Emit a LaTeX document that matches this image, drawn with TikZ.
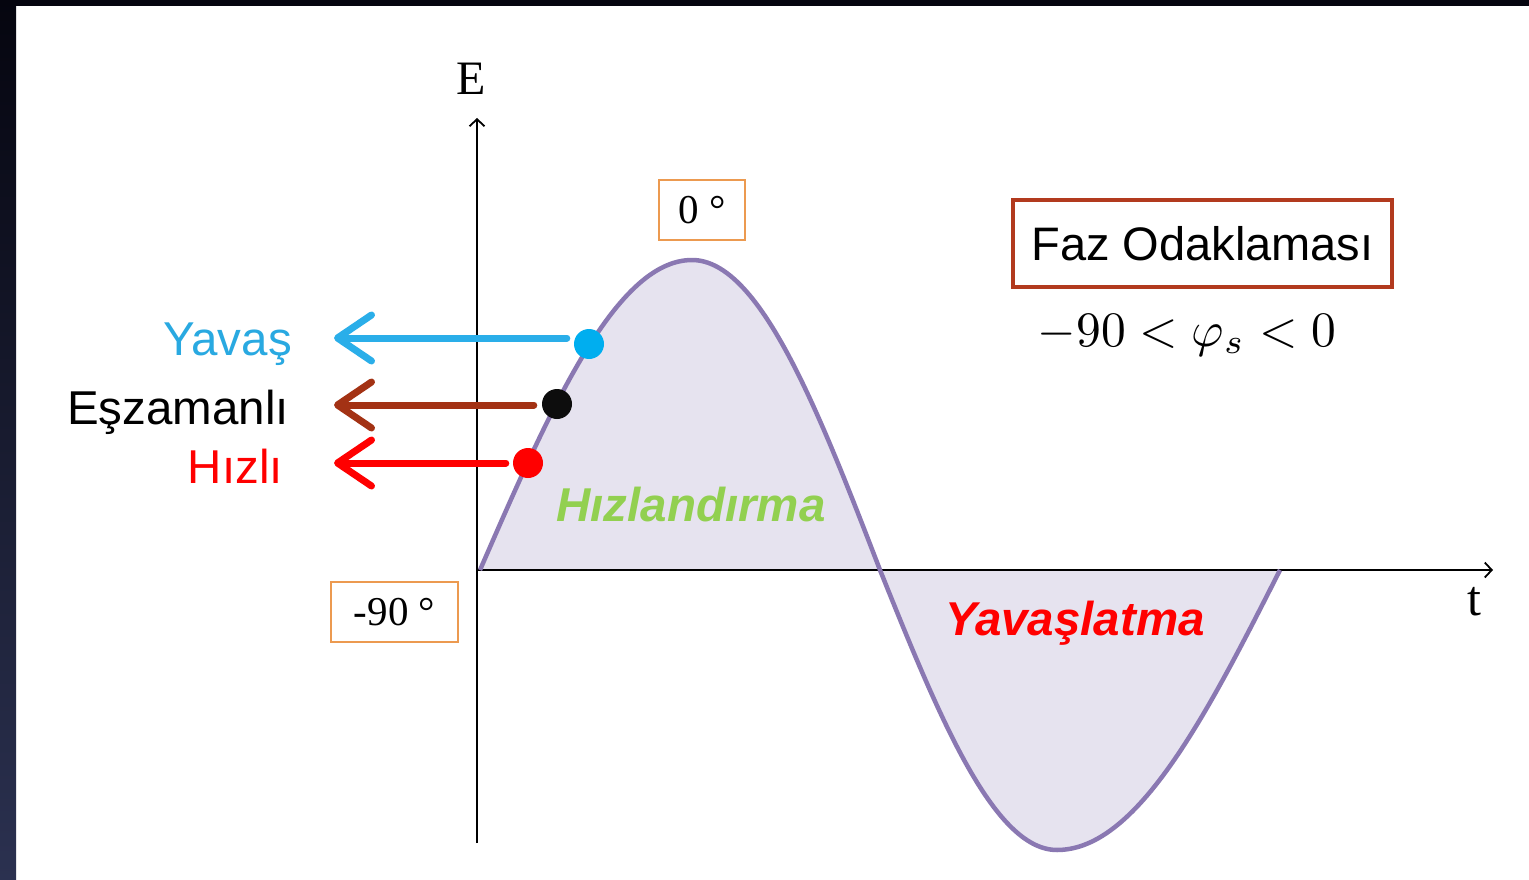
\documentclass[tikz,border=0pt]{standalone}
\usepackage{fontspec}
\setmainfont{Liberation Serif}
\newfontfamily\arialf{Liberation Sans}
\usetikzlibrary{arrows.meta}
\definecolor{lav}{HTML}{E6E3EF}
\definecolor{curvec}{HTML}{8A78B2}
\definecolor{cyant}{HTML}{29A9E1}
\definecolor{cyana}{HTML}{2AAEE9}
\definecolor{cyand}{HTML}{00AEEF}
\definecolor{browna}{HTML}{A33214}
\definecolor{redc}{HTML}{FF0000}
\definecolor{greenc}{HTML}{92D050}
\definecolor{orangeb}{HTML}{EC9A50}
\definecolor{darkredb}{HTML}{B23A1E}
\definecolor{navyb}{HTML}{2B3150}
\definecolor{topb}{HTML}{05050F}
\begin{document}
\begin{tikzpicture}[x=1pt,y=-1pt,
  axis/.style={line width=1.8pt, black, -{Straight Barb[length=7pt,width=15pt]}},
  bigarr/.style={line width=7pt, line cap=round, -{Straight Barb[length=34pt,width=46pt,round]}},
  dot/.style={circle, minimum size=30pt, inner sep=0pt, draw=none},
  degbox/.style={draw=orangeb, line width=2.8pt, fill=white, inner sep=0pt, font=\fontsize{41}{44}\selectfont},
  sidelab/.style={font=\arialf\fontsize{47.5}{50}\selectfont, inner sep=0pt},
  arealab/.style={font=\arialf\bfseries\itshape\fontsize{47.5}{50}\selectfont, inner sep=0pt}
]
\useasboundingbox (0,0) rectangle (1529,880);
\fill[white] (0,0) rectangle (1529,880);
\shade[top color=topb, bottom color=navyb] (0,0) rectangle (16,880);
\fill[topb] (0,0) rectangle (1529,6);

% fills
\fill[lav] (480,570)
  -- plot[domain=480:692, samples=60] (\x, {570-310*sin((\x-480)/212*90)})
  -- plot[domain=692:880, samples=60] (\x, {570-310*cos((\x-692)/188*90)})
  -- cycle;
\fill[lav] (880,570)
  -- plot[domain=880:1057, samples=60] (\x, {570+280*sin((\x-880)/177*90)})
  -- plot[domain=1057:1280, samples=60] (\x, {570+280*cos((\x-1057)/223*90)})
  -- cycle;

% axes
\coordinate (o) at (477,570);
\coordinate (ybot) at (477,843);
\coordinate (ytop) at (477,118);
\coordinate (xend) at (1493,570);
\draw[axis] (ybot) -- (ytop);
\draw[axis] (o) -- (xend);

% curve
\draw[curvec, line width=4.5pt, line join=round]
  plot[domain=480:692, samples=60] (\x, {570-310*sin((\x-480)/212*90)})
  -- plot[domain=692:880, samples=60] (\x, {570-310*cos((\x-692)/188*90)})
  -- plot[domain=880:1057, samples=60] (\x, {570+280*sin((\x-880)/177*90)})
  -- plot[domain=1057:1280, samples=60] (\x, {570+280*cos((\x-1057)/223*90)});

% axis labels
\node[anchor=base, inner sep=0pt, font=\fontsize{48}{50}\selectfont] (E) at (471,95) {E};
\node[anchor=base, inner sep=0pt, font=\fontsize{50}{52}\selectfont] (t) at (1474,615) {t};

% degree boxes
\node[degbox, minimum width=86pt, minimum height=60pt] (zero) at (702,210) {0\kern0.25em°};
\node[degbox, minimum width=127pt, minimum height=60pt] (m90) at (394.5,612) {-90\kern0.25em°};

% title box
\node[draw=darkredb, line width=4pt, minimum width=379pt, minimum height=87pt, inner sep=0pt,
  font=\arialf\fontsize{47}{50}\selectfont] (faz) at (1202.5,243.5) {Faz Odaklaması};
\node[anchor=base, inner sep=0pt] (ineq) at (1187,346) {\scalebox{4.95}{$-90<\varphi_s<0$}};

% dots
\node[dot, fill=cyand] (dY) at (589,344) {};
\node[dot, fill=black!95] (dE) at (557,404) {};
\node[dot, fill=redc] (dH) at (528,463) {};

% arrow tips
\coordinate (tY) at (334,338);
\coordinate (tE) at (334,405);
\coordinate (tH) at (334,463);
\draw[bigarr, cyana] ([xshift=-7pt]dY.west |- tY) -- (tY);
\draw[bigarr, browna] ([xshift=-8pt]dE.west |- tE) -- (tE);
\draw[bigarr, redc] ([xshift=-7pt]dH.west |- tH) -- (tH);

% side labels
\node[sidelab, anchor=base east, text=cyant] (lY) at (292,355) {Yavaş};
\node[sidelab, anchor=base east, text=black] (lE) at (289,424) {Eşzamanlı};
\node[sidelab, anchor=base east, text=redc] (lH) at (283,483) {Hızlı};

% area labels
\node[arealab, text=greenc] (acc) at (691,505) {Hızlandırma};
\node[arealab, anchor=base, text=redc] (dec) at (1075,635) {Yavaşlatma};
\end{tikzpicture}
\end{document}
